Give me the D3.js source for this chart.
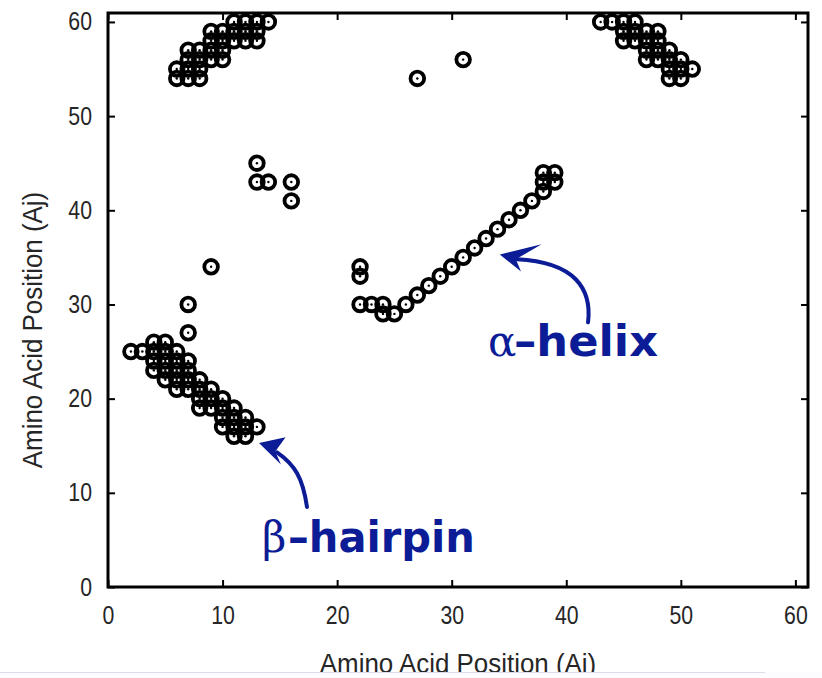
<!DOCTYPE html>
<html lang="en">
<head>
<meta charset="UTF-8">
<title>Contact Map</title>
<script src="https://d3js.org/d3.v7.min.js"></script>
<style>
    body { margin: 0; background: #fff; }
    .axis path { display: none; }
    .axis line { stroke: #000; stroke-width: 2; }
    .axis text {
        font-family: "Liberation Sans", Arial, sans-serif;
        font-size: 25px;
        fill: #262626;
    }
    .title {
        font-family: "Liberation Sans", Arial, sans-serif;
        font-size: 27px;
        fill: #262626;
    }
    .note { fill: #0b1c96; }
</style>
</head>
<body>
<div id="chart"></div>
<script>
    const width = 822;
    const height = 678;

    const ticks = [0, 10, 20, 30, 40, 50, 60];

    // contacts [Ai, Aj]
    const hairpinPts = [
        [2, 25], [3, 25],
        [4, 23], [4, 24], [4, 25], [4, 26],
        [5, 22], [5, 23], [5, 24], [5, 25], [5, 26],
        [6, 21], [6, 22], [6, 23], [6, 24], [6, 25],
        [7, 21], [7, 22], [7, 23], [7, 24],
        [8, 19], [8, 20], [8, 21], [8, 22],
        [9, 19], [9, 20], [9, 21],
        [10, 17], [10, 18], [10, 19], [10, 20],
        [11, 16], [11, 17], [11, 18], [11, 19],
        [12, 16], [12, 17], [12, 18],
        [13, 17]
    ];
    const helixPts = [
        [22, 30], [22, 33], [22, 34], [23, 30], [24, 29], [24, 30], [25, 29],
        [26, 30], [27, 31], [28, 32], [29, 33], [30, 34], [31, 35], [32, 36],
        [33, 37], [34, 38], [35, 39], [36, 40], [37, 41],
        [38, 42], [38, 43], [38, 44], [39, 43], [39, 44]
    ];
    const upperLeftPts = [
        [6, 54], [7, 54], [8, 54],
        [6, 55], [7, 55], [8, 55],
        [7, 56], [8, 56], [9, 56], [10, 56],
        [7, 57], [8, 57], [9, 57], [10, 57],
        [9, 58], [10, 58], [11, 58], [12, 58], [13, 58],
        [9, 59], [10, 59], [11, 59], [12, 59], [13, 59],
        [11, 60], [12, 60], [13, 60], [14, 60]
    ];
    const upperRightPts = [
        [43, 60], [44, 60], [45, 60], [46, 60],
        [45, 59], [46, 59], [47, 59], [48, 59],
        [45, 58], [46, 58], [47, 58], [48, 58],
        [47, 57], [48, 57], [49, 57],
        [47, 56], [48, 56], [49, 56], [50, 56],
        [49, 55], [50, 55], [51, 55],
        [49, 54], [50, 54]
    ];
    const strayPts = [
        [7, 27], [7, 30], [9, 34], [13, 43], [13, 45], [14, 43],
        [16, 41], [16, 43], [27, 54], [31, 56]
    ];

    const svg = d3.select("#chart")
        .append("svg")
        .attr("width", width)
        .attr("height", height);

    const x = d3.scaleLinear().domain([0, 61.1]).range([108, 808]);
    const y = d3.scaleLinear().domain([0, 60.95]).range([587, 13]);

    // axes, ticks pointing inward on all four sides
    svg.append("g")
        .attr("class", "axis")
        .attr("transform", `translate(0,${y(0)})`)
        .call(d3.axisBottom(x).tickValues(ticks).tickSizeInner(-7).tickSizeOuter(0).tickPadding(19))
        .selectAll("text")
        .attr("transform", "scale(0.85,1)");

    svg.append("g")
        .attr("class", "axis")
        .attr("transform", `translate(${x(0)},0)`)
        .call(d3.axisLeft(y).tickValues(ticks).tickSizeInner(-7).tickSizeOuter(0).tickPadding(16))
        .selectAll("text")
        .attr("x", -16 / 0.85)
        .attr("transform", "scale(0.85,1)");

    svg.append("g")
        .attr("class", "axis")
        .attr("transform", `translate(0,${y.range()[1]})`)
        .call(d3.axisTop(x).tickValues(ticks).tickSizeInner(-7).tickSizeOuter(0).tickFormat(""));

    svg.append("g")
        .attr("class", "axis")
        .attr("transform", `translate(${x.range()[1]},0)`)
        .call(d3.axisRight(y).tickValues(ticks).tickSizeInner(-7).tickSizeOuter(0).tickFormat(""));

    // frame
    svg.append("rect")
        .attr("x", x.range()[0])
        .attr("y", y.range()[1])
        .attr("width", x.range()[1] - x.range()[0])
        .attr("height", y.range()[0] - y.range()[1])
        .attr("fill", "none")
        .attr("stroke", "#000")
        .attr("stroke-width", 3);

    // contact markers
    const allPts = [].concat(hairpinPts, helixPts, upperLeftPts, upperRightPts, strayPts);

    const marks = svg.append("g");
    marks.selectAll("circle.ring")
        .data(allPts)
        .join("circle")
        .attr("class", "ring")
        .attr("cx", d => x(d[0]))
        .attr("cy", d => y(d[1]))
        .attr("r", 6.8)
        .attr("fill", "none")
        .attr("stroke", "#000")
        .attr("stroke-width", 3.8);
    marks.selectAll("circle.dot")
        .data(allPts)
        .join("circle")
        .attr("class", "dot")
        .attr("cx", d => x(d[0]))
        .attr("cy", d => y(d[1]))
        .attr("r", 1.2)
        .attr("fill", "#000");

    // axis titles
    svg.append("text")
        .attr("class", "title")
        .attr("text-anchor", "middle")
        .attr("transform", `translate(${(x.range()[0] + x.range()[1]) / 2},673) scale(0.96,1)`)
        .text("Amino Acid Position (Ai)");

    svg.append("text")
        .attr("class", "title")
        .attr("text-anchor", "middle")
        .attr("transform", "translate(42,330) rotate(-90) scale(0.96,1)")
        .text("Amino Acid Position (Aj)");

    // blue annotations, anchored in data units
    const blue = "#0b1c96";
    const pt = d => [x(d[0]), y(d[1])];

    function arrow(shaft, head) {
        const [s, c1, c2, e] = shaft.map(pt);
        svg.append("path")
            .attr("d", `M${s}C${c1} ${c2} ${e}`)
            .attr("fill", "none")
            .attr("stroke", blue)
            .attr("stroke-width", 4)
            .attr("stroke-linecap", "round");
        svg.append("path")
            .attr("d", "M" + head.map(pt).join("L") + "Z")
            .attr("fill", blue);
    }

    // alpha helix arrow
    arrow(
        [[41.9, 28.1], [42.25, 31.6], [40.8, 34.5], [35.7, 34.8]],
        [[34.2, 35.3], [37.85, 36.4], [35.6, 34.8], [36.05, 33.5]]
    );
    // beta hairpin arrow
    arrow(
        [[17.37, 8.5], [17.0, 11.6], [16.3, 13.0], [14.75, 14.3]],
        [[13.18, 15.3], [15.5, 15.9], [14.6, 14.4], [15.1, 13.0]]
    );

    function label(at, greek, rest, restLen) {
        const [lx, ly] = pt(at);
        svg.append("text")
            .attr("class", "note")
            .attr("x", lx)
            .attr("y", ly)
            .style("font-family", "'DejaVu Serif', serif")
            .style("font-size", "42px")
            .text(greek);
        svg.append("text")
            .attr("class", "note")
            .attr("x", lx + 26)
            .attr("y", ly)
            .attr("textLength", restLen)
            .attr("lengthAdjust", "spacingAndGlyphs")
            .style("font-family", "'DejaVu Sans', sans-serif")
            .style("font-weight", "bold")
            .style("font-size", "43px")
            .text(rest);
    }
    label([33.17, 24.5], "\u03b1", "\u2013helix", 144);
    label([13.44, 3.7], "\u03b2", "\u2013hairpin", 187);

    // cropped bottom edge of the original figure
    svg.append("rect")
        .attr("x", 0).attr("y", 672)
        .attr("width", width).attr("height", height - 672)
        .attr("fill", "#fcfcff");
    svg.append("line")
        .attr("x1", 0).attr("x2", 765)
        .attr("y1", 672.5).attr("y2", 672.5)
        .attr("stroke", "#dcdcec");
</script>
</body>
</html>
